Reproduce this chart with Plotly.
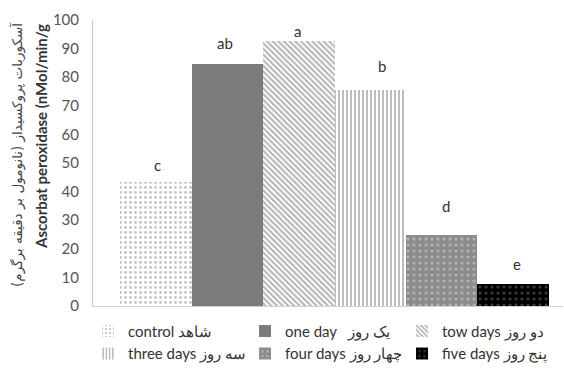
import plotly.graph_objects as go

categories = ["control شاهد", "one day   یک روز", "tow days دو روز",
              "three days سه روز", "four days چهار روز", "five days پنج روز"]
values = [43.5, 84.5, 92.5, 75.5, 25.0, 7.7]
letters = ["c", "ab", "a", "b", "d", "e"]
y_ticks = [0, 10, 20, 30, 40, 50, 60, 70, 80, 90, 100]

styles = [
    dict(color="white", pattern=dict(shape=".", fgcolor="#8a8a8a", bgcolor="white", size=5, solidity=0.25)),
    dict(color="#7b7b7b", pattern=dict(shape="")),
    dict(color="white", pattern=dict(shape="\\", fgcolor="#666666", bgcolor="white", size=4, solidity=0.5)),
    dict(color="white", pattern=dict(shape="|", fgcolor="#6e6e6e", bgcolor="white", size=4, solidity=0.45)),
    dict(color="#8c8c8c", pattern=dict(shape=".", fgcolor="#d8d8d8", bgcolor="#8c8c8c", size=6, solidity=0.2)),
    dict(color="black", pattern=dict(shape=".", fgcolor="#777777", bgcolor="black", size=6, solidity=0.2)),
]

font_family = "Lato, Liberation Sans, sans-serif"

fig = go.Figure()
for i, (cat, val) in enumerate(zip(categories, values)):
    fig.add_trace(go.Bar(
        x=[i], y=[val], name=cat, width=1.0,
        marker=dict(line=dict(width=0), **styles[i]),
        showlegend=True,
    ))

label_dy = [17, 21, 10, 24, 29, 20]
label_dx = [2, -2, -1, 12, 4, 4]
for i, (lab, val) in enumerate(zip(letters, values)):
    fig.add_annotation(x=i, y=val, text=lab, showarrow=False,
                       xshift=label_dx[i], yshift=label_dy[i],
                       yanchor="middle", font=dict(size=15, color="#333333", family=font_family))

fig.add_annotation(xref="paper", yref="paper", x=0, y=0.5, xshift=-76, yshift=8,
                   xanchor="center", yanchor="middle",
                   text="آسکوربات پروکسیداز (نانومول بر دقیقه برگرم)", textangle=-90,
                   showarrow=False, font=dict(size=13.5, color="#444444", family="DejaVu Sans"))
fig.add_annotation(xref="paper", yref="paper", x=0, y=0.5, xshift=-52, yshift=26,
                   xanchor="center", yanchor="middle",
                   text="<b>Ascorbat peroxidase (nMol/min/g</b>", textangle=-90,
                   showarrow=False, font=dict(size=15, color="#333333", family=font_family))

fig.update_layout(
    width=564, height=379,
    margin=dict(l=93, r=1, t=20, b=73),
    plot_bgcolor="white", paper_bgcolor="white",
    bargap=0, barmode="overlay",
    font=dict(family=font_family, size=15, color="#444444"),
    legend=dict(orientation="h", x=-0.0106, xanchor="left", y=-0.031, yanchor="top",
                entrywidth=112, entrywidthmode="pixels", traceorder="normal",
                font=dict(size=15, color="#333333"), itemwidth=30,
                tracegroupgap=0),
    xaxis=dict(range=[-0.878, 5.696], showticklabels=False, showgrid=False,
               zeroline=False, showline=True, linecolor="#d0d0d0", linewidth=1,
               ticks="", fixedrange=True),
    yaxis=dict(range=[0, 100], tickvals=y_ticks, showgrid=False, zeroline=False,
               showline=True, linecolor="#c8c8c8", linewidth=1, ticks="",
               ticklabelstandoff=10, tickfont=dict(size=15, color="#555555")),
)

fig.write_html("out.html")
